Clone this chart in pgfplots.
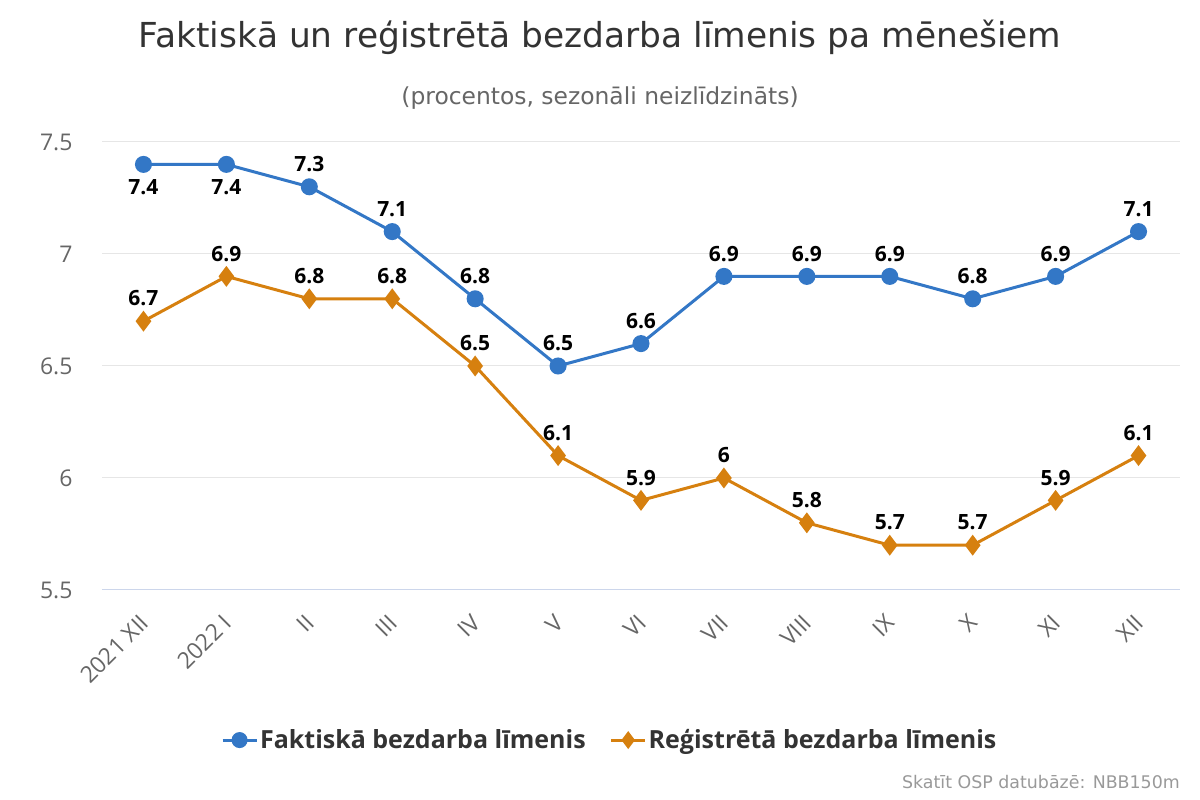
\documentclass[border=0pt]{standalone}
\usepackage{fontspec}
\setmainfont{Open Sans}
\newfontfamily\dejavu{DejaVu Sans}
\usepackage{pgfplots}
\pgfplotsset{compat=1.18}
\definecolor{cblue}{HTML}{3377C6}
\definecolor{corange}{HTML}{D6800F}
\definecolor{cgrid}{HTML}{E6E6E6}
\definecolor{caxis}{HTML}{CCD6EB}
\definecolor{ctitle}{HTML}{333333}
\definecolor{clab}{HTML}{666666}
\definecolor{ccredit}{HTML}{999999}
\begin{document}
\begin{tikzpicture}
\path[use as bounding box] (0pt,0pt) rectangle (1200pt,800pt);
\node[font=\dejavu\fontsize{34.4}{40}\selectfont, text=ctitle] at (600pt,763pt) {Faktiskā un reģistrētā bezdarba līmenis pa mēnešiem};
\node[font=\dejavu\fontsize{23.4}{28}\selectfont, text=clab] at (600pt,702pt) {(procentos, sezonāli neizlīdzināts)};
\node[anchor=base east, inner sep=0pt, font=\dejavu\fontsize{17.4}{20}\selectfont, text=ccredit] at (1180pt,11pt) {Skatīt OSP datubāzē: NBB150m};
\begin{axis}[
  at={(102pt,210pt)}, anchor=south west,
  width=1078pt, height=448pt, scale only axis,
  xmin=-0.5, xmax=12.5, ymin=5.5, ymax=7.5,
  xtick={0,...,12},
  xticklabels={2021 XII,2022 I,II,III,IV,V,VI,VII,VIII,IX,X,XI,XII},
  ytick={5.5,6,6.5,7,7.5},
  /pgf/number format/assume math mode=true,
  major tick length=0pt,
  axis x line=bottom, axis y line=left,
  x axis line style={draw=caxis, line width=1pt, -},
  y axis line style={draw=none},
  ymajorgrids, grid style={draw=cgrid, line width=1pt},
  yticklabel style={font=\fontsize{23}{27}\selectfont, text=clab, xshift=-26pt},
  xticklabel style={font=\fontsize{23}{27}\selectfont, text=clab, xshift=-5pt, yshift=-18pt, rotate=45, anchor=north east},
  clip=false,
  legend style={at={(0.471,-0.335)}, anchor=center, draw=none, fill=none,
    legend columns=2, font=\bfseries\fontsize{25}{30}\selectfont, text=ctitle,
    /tikz/every even column/.append style={column sep=22pt}},
  legend image code/.code={\draw[mark repeat=2,mark phase=2,mark size=6.5pt] plot coordinates {(0pt,0pt)(17pt,0pt)(34pt,0pt)};},
  nodes near coords,
  nodes near coords style={font=\bfseries\fontsize{21}{25}\selectfont, text=black},
  visualization depends on={value \thisrow{a} \as \anc},
  every node near coord/.append style={anchor=\anc, inner xsep=2pt, inner ysep=13.5pt},
]
\addplot[cblue, line width=3pt, mark=*, mark size=7pt, mark options={solid}] table[x=x,y=y] {
x y a
0 7.4 north
1 7.4 north
2 7.3 south
3 7.1 south
4 6.8 south
5 6.5 south
6 6.6 south
7 6.9 south
8 6.9 south
9 6.9 south
10 6.8 south
11 6.9 south
12 7.1 south
};
\addlegendentry{Faktiskā bezdarba līmenis}
\addplot[corange, line width=3pt, mark=diamond*, mark size=8pt, mark options={solid}] table[x=x,y=y] {
x y a
0 6.7 south
1 6.9 south
2 6.8 south
3 6.8 south
4 6.5 south
5 6.1 south
6 5.9 south
7 6.0 south
8 5.8 south
9 5.7 south
10 5.7 south
11 5.9 south
12 6.1 south
};
\addlegendentry{Reģistrētā bezdarba līmenis}
\end{axis}
\end{tikzpicture}
\end{document}
